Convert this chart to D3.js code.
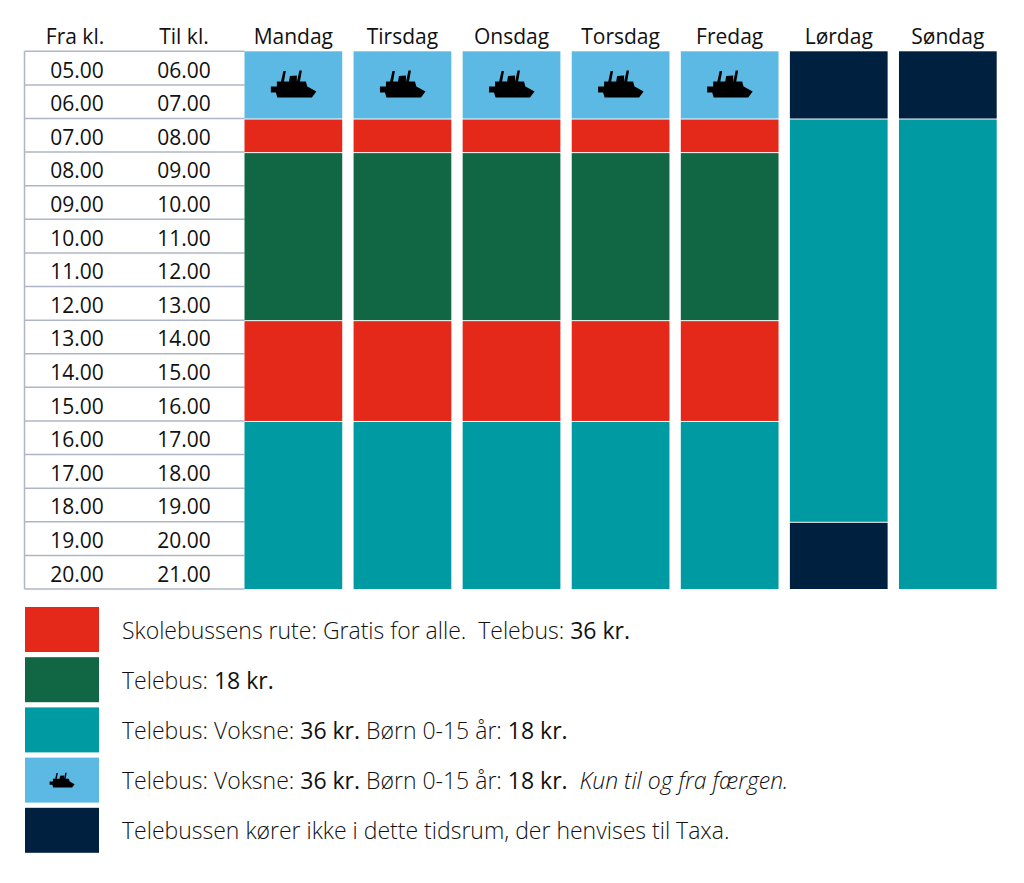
<!DOCTYPE html>
<html><head><meta charset="utf-8">
<script src="https://cdn.jsdelivr.net/npm/d3@7"></script>
<style>html,body{margin:0;padding:0;background:#fff;}svg{display:block;}</style>
</head><body>
<svg id="chart" width="1024" height="883"></svg>
<script>
const days = ["Mandag","Tirsdag","Onsdag","Torsdag","Fredag","Lørdag","Søndag"];
const fromTimes = ["05.00","06.00","07.00","08.00","09.00","10.00","11.00","12.00","13.00","14.00","15.00","16.00","17.00","18.00","19.00","20.00"];
const toTimes = ["06.00","07.00","08.00","09.00","10.00","11.00","12.00","13.00","14.00","15.00","16.00","17.00","18.00","19.00","20.00","21.00"];
const hourStart = 5, hourEnd = 21;
// segments per day: [start, end, category]
const weekdaySegments = [[5,7,"ferry"],[7,8,"school"],[8,13,"tele18"],[13,16,"school"],[16,21,"tele36"]];
const saturdaySegments = [[5,7,"none"],[7,19,"tele36"],[19,21,"none"]];
const sundaySegments = [[5,7,"none"],[7,21,"tele36"]];
const daySegments = [weekdaySegments,weekdaySegments,weekdaySegments,weekdaySegments,weekdaySegments,saturdaySegments,sundaySegments];
const categories = ["school","tele18","tele36","ferry","none"];
const categoryColors = ["#e4291b","#116744","#009aa2","#5cb9e3","#00203f"];
const legendTexts = [
  [["Skolebussens rute: Gratis for alle.  Telebus: ","n"],["36 kr.","b"]],
  [["Telebus: ","n"],["18 kr.","b"]],
  [["Telebus: Voksne: ","n"],["36 kr.","b"],[" Børn 0-15 år: ","n"],["18 kr.","b"]],
  [["Telebus: Voksne: ","n"],["36 kr.","b"],[" Børn 0-15 år: ","n"],["18 kr.","b"],["  Kun til og fra færgen.","i"]],
  [["Telebussen kører ikke i dette tidsrum, der henvises til Taxa.","n"]]
];

const svg = d3.select("#chart");
const FONT = "'Open Sans', sans-serif";
const color = d3.scaleOrdinal().domain(categories).range(categoryColors);
const y = d3.scaleLinear().domain([hourStart, hourEnd]).range([51.3, 589]);
const x = d3.scaleBand().domain(days).range([244.5, 996.7]).paddingInner(0.104);
const hours = d3.range(hourStart, hourEnd);
const rowH = y(hourStart+1) - y(hourStart);

// ferry icon path (local coords centred)
const ferryPath = "M-22.5,2.5 L14,2.5 L23,7.5 L18.5,13.5 L-16,13.5 L-17.5,8.5 L-22.5,8.5 Z " +
  "M-16.5,-2.5 L12.5,-2.5 L14,3 L-16.5,3 Z " +
  "M-12.5,-2 L-10,-13 L-7.5,-13 L-9.5,-2 Z " +
  "M-4.5,-2 L-3.5,-8 L3.5,-8.5 L3.5,-2 Z " +
  "M3.5,-2 L6,-13.5 L8.5,-13.5 L6.5,-2 Z";

// headers
const headerY = 44;
svg.append("text").attr("x",75).attr("y",headerY).attr("text-anchor","middle")
  .attr("font-family",FONT).attr("font-size",21).attr("fill","#111").text("Fra kl.");
svg.append("text").attr("x",184).attr("y",headerY).attr("text-anchor","middle")
  .attr("font-family",FONT).attr("font-size",21).attr("fill","#111").text("Til kl.");
svg.selectAll("text.day").data(days).join("text").attr("class","day")
  .attr("x",d=>x(d)+x.bandwidth()/2).attr("y",headerY).attr("text-anchor","middle")
  .attr("font-family",FONT).attr("font-size",21).attr("fill","#111").text(d=>d);

// left table grid
const gridColor = "#aeb6c6";
const tableLeft = 24.5, tableRight = x(days[0]);
svg.selectAll("line.hgrid").data(d3.range(hourStart, hourEnd+1)).join("line").attr("class","hgrid")
  .attr("x1",tableLeft).attr("x2",tableRight).attr("y1",d=>y(d)).attr("y2",d=>y(d))
  .attr("stroke",gridColor).attr("stroke-width",1.5);
svg.append("line").attr("x1",tableLeft).attr("x2",tableLeft).attr("y1",y(hourStart)).attr("y2",y(hourEnd))
  .attr("stroke",gridColor).attr("stroke-width",1.5);

svg.selectAll("text.from").data(hours).join("text").attr("class","from")
  .attr("x",77).attr("y",(d)=>y(d)+rowH/2+9.4).attr("text-anchor","middle")
  .attr("font-family",FONT).attr("font-size",21).attr("fill","#111").text((d,i)=>fromTimes[i]);
svg.selectAll("text.to").data(hours).join("text").attr("class","to")
  .attr("x",184).attr("y",(d)=>y(d)+rowH/2+9.4).attr("text-anchor","middle")
  .attr("font-family",FONT).attr("font-size",21).attr("fill","#111").text((d,i)=>toTimes[i]);

// day columns
days.forEach((day, di) => {
  const g = svg.append("g");
  g.selectAll("rect").data(daySegments[di]).join("rect")
    .attr("x", x(day)).attr("width", x.bandwidth())
    .attr("y", d=>y(d[0]) + (d[0]===hourStart?0:1))
    .attr("height", d=>y(d[1]) - y(d[0]) - (d[0]===hourStart?0:1))
    .attr("fill", d=>color(d[2]));
  g.selectAll("path").data(daySegments[di].filter(d=>d[2]==="ferry")).join("path")
    .attr("d", ferryPath)
    .attr("transform", d=>`translate(${x(day)+x.bandwidth()/2},${(y(d[0])+y(d[1]))/2 - 1})`)
    .attr("fill","#000");
});

// legend
const legendTop = 607, legendStep = 50.2, boxW = 74, boxH = 45;
const lg = svg.selectAll("g.legend").data(categories).join("g").attr("class","legend")
  .attr("transform",(d,i)=>`translate(25,${legendTop + i*legendStep})`);
lg.append("rect").attr("width",boxW).attr("height",boxH).attr("fill",d=>color(d));
lg.filter(d=>d==="ferry").append("path").attr("d",ferryPath)
  .attr("transform",`translate(${boxW/2},${boxH/2}) scale(0.55)`).attr("fill","#000");
const lt = lg.append("text").attr("x",97).attr("y",boxH/2+9)
  .attr("font-family",FONT).attr("font-size",23).attr("fill","#111").attr("xml:space","preserve")
  .style("white-space","pre");
lt.each(function(d,i){
  const t = d3.select(this);
  legendTexts[i].forEach(p=>{
    t.append("tspan").text(p[0])
      .attr("font-weight", p[1]==="b"?500:300)
      .attr("font-style", p[1]==="i"?"italic":"normal");
  });
});
</script>
</body></html>
